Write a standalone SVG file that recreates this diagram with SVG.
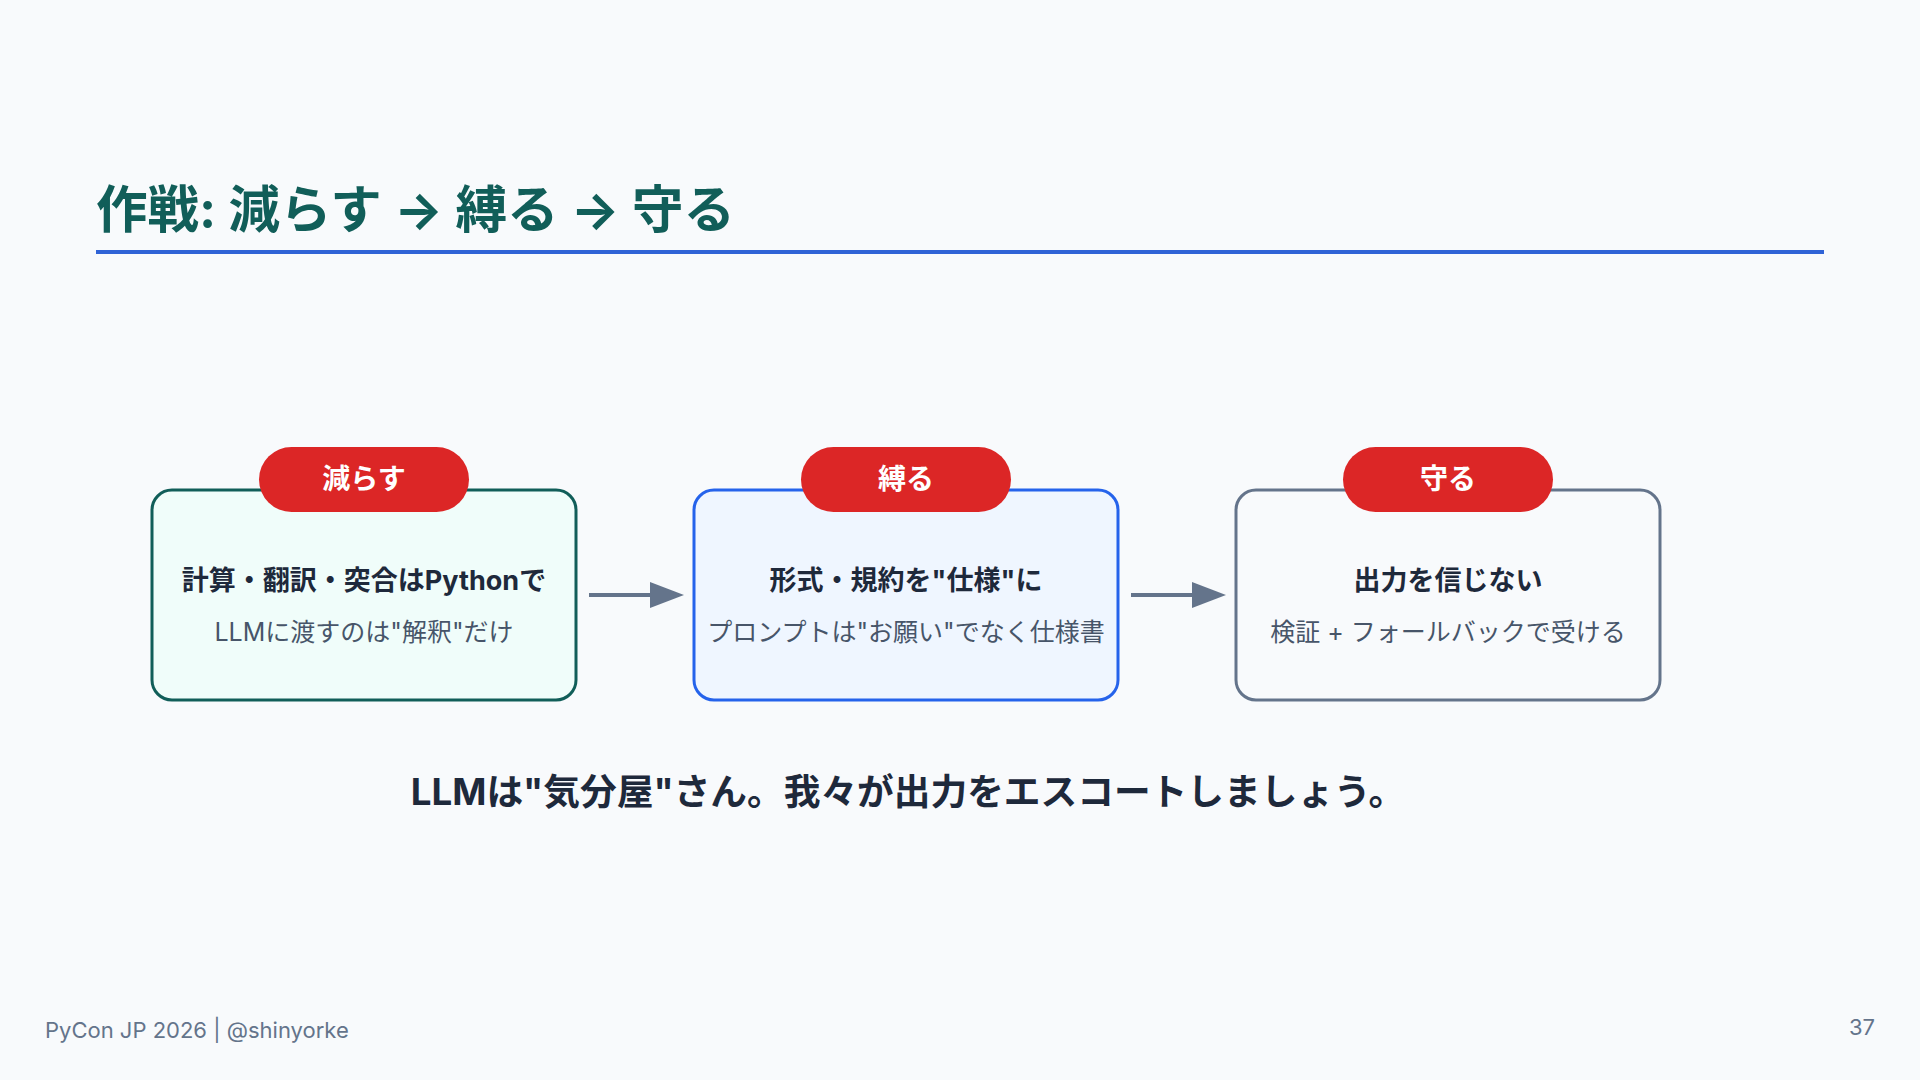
<svg xmlns="http://www.w3.org/2000/svg" width="1920" height="1080" viewBox="0 0 1920 1080">
<style>
  text { font-family: "Inter", "Noto Sans CJK JP", "Noto Sans", sans-serif; }
  .title { font-size: 51.5px; font-weight: 700; fill: #115e59; }
  .badge { fill: #dc2626; }
  .badge-t { font-size: 28px; font-weight: 700; fill: #ffffff; text-anchor: middle; }
  .head { font-size: 27px; font-weight: 700; fill: #1e293b; text-anchor: middle; }
  .sub { font-size: 25px; font-weight: 400; fill: #475569; text-anchor: middle; }
  .conn { stroke: #64748b; stroke-width: 4; fill: none; }
  .msg { font-size: 36.7px; font-weight: 700; fill: #1e293b; text-anchor: middle; }
  .foot { font-size: 22px; fill: #64748b; }
</style>
<defs>
  <marker id="ah" viewBox="0 0 34 26" refX="0" refY="13" markerWidth="34" markerHeight="26" markerUnits="userSpaceOnUse" orient="auto">
    <path d="M0,0 L34,13 L0,26 z" fill="#64748b"/>
  </marker>
</defs>
<rect width="1920" height="1080" fill="#f8fafc"/>
<g id="title">
  <text class="title" x="96" y="228">作戦: 減らす → 縛る → 守る</text>
  <rect x="96" y="250" width="1728" height="4" fill="#2f63d6"/>
</g>
<g id="connectors">
  <line class="conn" x1="589" y1="595" x2="650" y2="595" marker-end="url(#ah)"/>
  <line class="conn" x1="1131" y1="595" x2="1192" y2="595" marker-end="url(#ah)"/>
</g>
<g id="node-reduce">
  <rect x="152" y="490" width="424" height="210" rx="20" fill="#f0fdfa" stroke="#115e59" stroke-width="3"/>
  <rect class="badge" x="259" y="447" width="210" height="65" rx="32.5"/>
  <text class="badge-t" x="364" y="489">減らす</text>
  <text class="head" x="364" y="590">計算・翻訳・突合はPythonで</text>
  <text class="sub" x="364" y="641">LLMに渡すのは"解釈"だけ</text>
</g>
<g id="node-bind">
  <rect x="694" y="490" width="424" height="210" rx="20" fill="#eff6ff" stroke="#2563eb" stroke-width="3"/>
  <rect class="badge" x="801" y="447" width="210" height="65" rx="32.5"/>
  <text class="badge-t" x="906" y="489">縛る</text>
  <text class="head" x="906" y="590">形式・規約を"仕様"に</text>
  <text class="sub" x="906" y="641">プロンプトは"お願い"でなく仕様書</text>
</g>
<g id="node-guard">
  <rect x="1236" y="490" width="424" height="210" rx="20" fill="#f8fafc" stroke="#64748b" stroke-width="3"/>
  <rect class="badge" x="1343" y="447" width="210" height="65" rx="32.5"/>
  <text class="badge-t" x="1448" y="489">守る</text>
  <text class="head" x="1448" y="590">出力を信じない</text>
  <text class="sub" x="1448" y="641">検証 + フォールバックで受ける</text>
</g>
<g id="message">
  <text class="msg" x="908" y="805">LLMは"気分屋"さん。我々が出力をエスコートしましょう。</text>
</g>
<g id="footer">
  <text class="foot" x="45" y="1038">PyCon JP 2026 | @shinyorke</text>
  <text class="foot" x="1875" y="1035" text-anchor="end" font-size="24">37</text>
</g>
</svg>
